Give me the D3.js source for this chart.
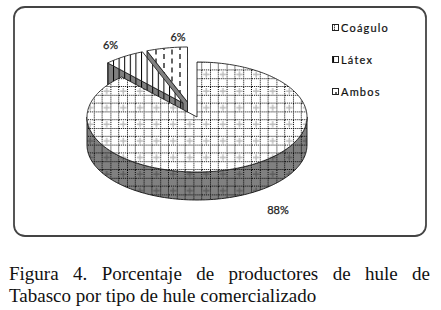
<!DOCTYPE html>
<html>
<head>
<meta charset="utf-8">
<script src="https://cdn.jsdelivr.net/npm/d3@7"></script>
<style>
  html, body { margin: 0; padding: 0; background: #fff; }
  svg { display: block; }
</style>
</head>
<body>
<div class="chart"></div>
<script>
// the data
var categories = ["Coágulo", "Látex", "Ambos"];
var values = [88, 6, 6];
var value_labels = ["88%", "6%", "6%"];
var caption_lines = [
  "Figura 4. Porcentaje de productores de hule de",
  "Tabasco por tipo de hule comercializado"
];

var width = 441, height = 310;
var center = { x: 197, y: 117 };
var radius = { x: 110, y: 55 };
var depth = 28;
// how far each slice is pulled out of the pie
var offsets = [[0, 0], [-14, -14], [-9.5, -15]];
var label_pos = [[278, 214], [110.5, 49], [178, 41]];
var legend_y = d3.scalePoint().domain(categories).range([28, 92]);

var svg = d3.select(".chart").append("svg")
  .attr("width", width)
  .attr("height", height)
  .style("background-color", "#fff");

var defs = svg.append("defs");

// grid pattern of the big slice, top and side only differ in the background
function grid_pattern(id, back, cross) {
  var p = defs.append("pattern")
    .attr("id", id)
    .attr("patternUnits", "userSpaceOnUse")
    .attr("x", 3).attr("y", 4)
    .attr("width", 16.6).attr("height", 16.6);
  p.append("rect").attr("width", 16.6).attr("height", 16.6).attr("fill", back);
  p.append("path")
    .attr("d", "M4.15 1V7.3M1 4.15H7.3")
    .attr("stroke", cross).attr("stroke-width", 1.4).attr("fill", "none");
  p.append("path")
    .attr("d", "M0 8.3H16.6M0 16.1H16.6M8.3 0V16.6M16.1 0V16.6")
    .attr("stroke", "#000").attr("stroke-width", 1)
    .attr("stroke-dasharray", "1 1").attr("fill", "none");
}
grid_pattern("grid_top", "#fff", "#bbb");
grid_pattern("grid_side", "#808080", "#5c5c5c");

function stripe_pattern(id, back, w) {
  var p = defs.append("pattern")
    .attr("id", id)
    .attr("patternUnits", "userSpaceOnUse")
    .attr("x", 1).attr("y", 0)
    .attr("width", w).attr("height", 8);
  p.append("rect").attr("width", w).attr("height", 8).attr("fill", back);
  p.append("line").attr("x1", 0.5).attr("x2", 0.5).attr("y1", 0).attr("y2", 8)
    .attr("stroke", "#000").attr("stroke-width", 1);
}
stripe_pattern("stripe_top", "#fff", 5.6);
stripe_pattern("stripe_side", "#808080", 5.6);

var dash = defs.append("pattern")
  .attr("id", "dash_top")
  .attr("patternUnits", "userSpaceOnUse")
  .attr("x", 3).attr("y", 0)
  .attr("width", 16).attr("height", 9);
dash.append("rect").attr("width", 16).attr("height", 9).attr("fill", "#fff");
dash.append("path").attr("d", "M1 0V5").attr("stroke", "#111").attr("stroke-width", 1.3);
dash.append("path").attr("d", "M9 4.5V9").attr("stroke", "#111").attr("stroke-width", 1.3);
dash.append("path").attr("d", "M9 0V0.5").attr("stroke", "#111").attr("stroke-width", 1.3);

var dash_side = defs.append("pattern")
  .attr("id", "dash_side")
  .attr("patternUnits", "userSpaceOnUse")
  .attr("width", 9).attr("height", 9);
dash_side.append("rect").attr("width", 9).attr("height", 9).attr("fill", "#808080");

var fills = {
  top: ["url(#grid_top)", "url(#stripe_top)", "url(#dash_top)"],
  side: ["url(#grid_side)", "url(#stripe_side)", "url(#dash_side)"]
};

// frame
svg.append("rect")
  .attr("x", 14).attr("y", 7)
  .attr("width", 412).attr("height", 229)
  .attr("rx", 11).attr("ry", 11)
  .attr("fill", "#fff")
  .attr("stroke", "#444")
  .attr("stroke-width", 1.8);

// slices clockwise from twelve o'clock
var pie = d3.pie().sort(null).startAngle(0).endAngle(2 * Math.PI);
var slices = pie(values);

var x_scale = d3.scaleLinear().domain([-1, 1]).range([center.x - radius.x, center.x + radius.x]);
var y_scale = d3.scaleLinear().domain([-1, 1]).range([center.y - radius.y, center.y + radius.y]);

function project(angle, i, drop) {
  return [
    x_scale(Math.sin(angle)) + offsets[i][0],
    y_scale(-Math.cos(angle)) + offsets[i][1] + (drop || 0)
  ];
}
function arc_points(a0, a1, i, drop) {
  var n = Math.max(2, Math.ceil(Math.abs(a1 - a0) * 40));
  return d3.range(n + 1).map(k => project(a0 + (a1 - a0) * k / n, i, drop));
}
var line = d3.line();

function top_path(d, i) {
  var apex = [x_scale(0) + offsets[i][0], y_scale(0) + offsets[i][1]];
  return line([apex].concat(arc_points(d.startAngle, d.endAngle, i))) + "Z";
}
function start_face(d, i) {
  var ax = x_scale(0) + offsets[i][0], ay = y_scale(0) + offsets[i][1];
  var p = project(d.startAngle, i);
  return line([[ax, ay], p, [p[0], p[1] + depth], [ax, ay + depth]]) + "Z";
}
function front_wall(i) {
  var front = arc_points(Math.PI / 2, 3 * Math.PI / 2, i);
  var back = arc_points(3 * Math.PI / 2, Math.PI / 2, i, depth);
  return line(front.concat(back)) + "Z";
}

var pie_g = svg.append("g").attr("class", "pie");

// back slices first, the big slice covers their feet
[2, 1, 0].forEach(function (i) {
  var d = slices[i];
  var g = pie_g.append("g").attr("class", "slice");
  if (i === 0) {
    g.append("path")
      .attr("d", front_wall(i))
      .attr("fill", fills.side[i])
      .attr("stroke", "#111").attr("stroke-width", 0.9);
  } else {
    g.append("path")
      .attr("d", start_face(d, i))
      .attr("fill", fills.side[i])
      .attr("stroke", "#111").attr("stroke-width", 0.9);
  }
  g.append("path")
    .attr("d", top_path(d, i))
    .attr("fill", fills.top[i])
    .attr("stroke", "#222").attr("stroke-width", 0.9);
});

// value labels
svg.selectAll(".value_label")
  .data(value_labels)
  .enter()
  .append("text")
    .attr("class", "value_label")
    .attr("x", (d, i) => label_pos[i][0])
    .attr("y", (d, i) => label_pos[i][1])
    .attr("text-anchor", "middle")
    .attr("font-family", "Lato, sans-serif")
    .attr("font-size", 11)
    .attr("fill", "#222")
    .attr("stroke", "#222")
    .attr("stroke-width", 0.25)
    .text(d => d);

// legend
var legend = svg.selectAll(".legend_item")
  .data(categories)
  .enter()
  .append("g")
    .attr("class", "legend_item")
    .attr("transform", d => "translate(332," + legend_y(d) + ")");
legend.append("rect")
  .attr("x", 0.5).attr("y", -3.5)
  .attr("width", 6).attr("height", 6)
  .attr("fill", (d, i) => fills.top[i])
  .attr("stroke", "#222").attr("stroke-width", 1);
legend.append("text")
  .attr("x", 9).attr("y", 4)
  .attr("font-family", "Lato, sans-serif")
  .attr("font-size", 11)
  .attr("letter-spacing", 1.2)
  .attr("fill", "#111")
  .attr("stroke", "#111")
  .attr("stroke-width", 0.2)
  .text(d => d);

// caption, first line justified as in the paper
var caption = svg.selectAll(".caption")
  .data(caption_lines)
  .enter()
  .append("text")
    .attr("class", "caption")
    .attr("x", 9)
    .attr("y", (d, i) => 280 + i * 22)
    .attr("font-family", "'Liberation Serif', serif")
    .attr("font-size", 19)
    .attr("fill", "#111")
    .text(d => d);
var first = caption.filter((d, i) => i === 0);
var gaps = caption_lines[0].split(" ").length - 1;
first.attr("word-spacing", (421 - first.node().getComputedTextLength()) / gaps);
</script>
</body>
</html>
